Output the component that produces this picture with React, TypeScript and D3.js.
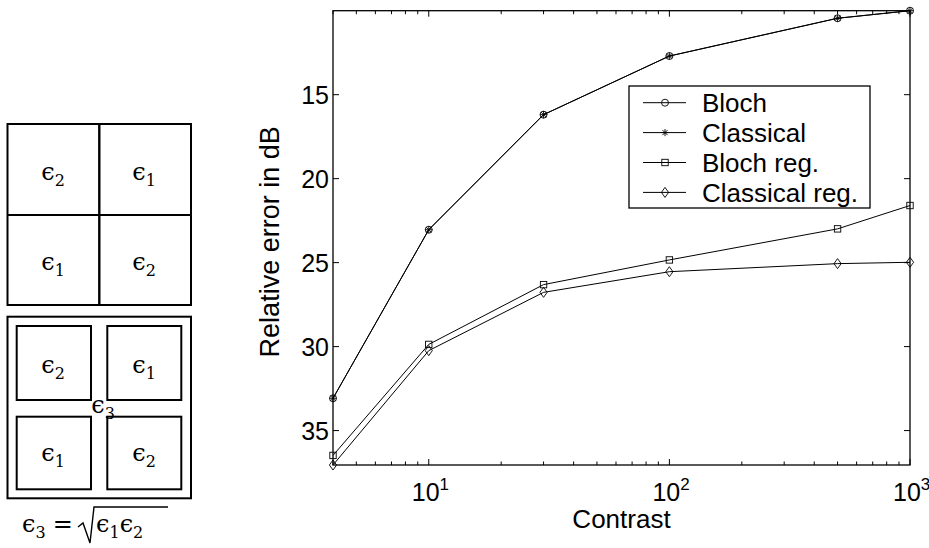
import React, { useEffect, useRef } from 'react';
import * as d3 from 'd3';

const contrast = [4, 10, 30, 100, 500, 1000];
const bloch = [33.08, 23.04, 16.19, 12.7, 10.45, 10.0];
const classical = [33.08, 23.04, 16.19, 12.7, 10.45, 10.0];
const blochReg = [36.48, 29.87, 26.31, 24.84, 22.99, 21.6];
const classicalReg = [37.05, 30.24, 26.77, 25.54, 25.06, 24.98];
const seriesNames = ['Bloch', 'Classical', 'Bloch reg.', 'Classical reg.'];
const yTicks = [15, 20, 25, 30, 35];
const xMajor = [10, 100, 1000];

const SANS = '"Liberation Sans", Arial, Helvetica, sans-serif';
const SERIF = '"DejaVu Serif", serif';

function drawMarker(g, kind, cx, cy) {
  if (kind === 'circle') {
    g.append('circle').attr('cx', cx).attr('cy', cy).attr('r', 3.5)
      .attr('fill', 'none').attr('stroke', '#000').attr('stroke-width', 0.9);
  } else if (kind === 'star') {
    const s = 3.6;
    const d = s * 0.71;
    g.append('path')
      .attr('d', `M${cx - s},${cy}H${cx + s}M${cx},${cy - s}V${cy + s}` +
        `M${cx - d},${cy - d}L${cx + d},${cy + d}M${cx - d},${cy + d}L${cx + d},${cy - d}`)
      .attr('stroke', '#000').attr('stroke-width', 0.9).attr('fill', 'none');
  } else if (kind === 'square') {
    g.append('rect').attr('x', cx - 3.2).attr('y', cy - 3.2).attr('width', 6.4).attr('height', 6.4)
      .attr('fill', 'none').attr('stroke', '#000').attr('stroke-width', 0.9);
  } else {
    g.append('path')
      .attr('d', `M${cx},${cy - 5}L${cx + 3.6},${cy}L${cx},${cy + 5}L${cx - 3.6},${cy}Z`)
      .attr('fill', 'none').attr('stroke', '#000').attr('stroke-width', 0.9);
  }
}

const Eps = ({ x, y, sub }) => (
  <text x={x} y={y} textAnchor="middle" fontFamily={SERIF} fontSize={24}>
    <tspan>ϵ</tspan>
    <tspan dy={6} fontSize={16}>{sub}</tspan>
  </text>
);

const App = () => {
  const chartRef = useRef(null);

  useEffect(() => {
    const g = d3.select(chartRef.current);
    g.selectAll('*').remove();

    const left = 333, right = 910, top = 10.7, bottom = 465;
    const series = [
      { name: seriesNames[0], values: bloch, marker: 'circle' },
      { name: seriesNames[1], values: classical, marker: 'star' },
      { name: seriesNames[2], values: blochReg, marker: 'square' },
      { name: seriesNames[3], values: classicalReg, marker: 'diamond' },
    ];

    const x = d3.scaleLog().domain(d3.extent(contrast)).range([left, right]);
    const allVals = series.flatMap(s => s.values);
    const y = d3.scaleLinear().domain(d3.extent(allVals)).range([top, bottom]);

    // ticks point inward on all four sides
    const minor = x.ticks().filter(t => !xMajor.includes(t));
    const tickPath = [];
    minor.forEach(t => {
      const px = x(t);
      tickPath.push(`M${px},${bottom}V${bottom - 3.5}`, `M${px},${top}V${top + 3.5}`);
    });
    xMajor.forEach(t => {
      const px = x(t);
      tickPath.push(`M${px},${bottom}V${bottom - 6}`, `M${px},${top}V${top + 6}`);
    });
    yTicks.forEach(t => {
      const py = y(t);
      tickPath.push(`M${left},${py}H${left + 6}`, `M${right},${py}H${right - 6}`);
    });
    g.append('path').attr('d', tickPath.join('')).attr('stroke', '#000')
      .attr('stroke-width', 1).attr('fill', 'none');

    const line = d3.line().x((d, i) => x(contrast[i])).y(d => y(d));
    series.forEach(s => {
      g.append('path').datum(s.values).attr('d', line)
        .attr('fill', 'none').attr('stroke', '#000').attr('stroke-width', 1);
    });
    series.forEach(s => {
      s.values.forEach((v, i) => drawMarker(g, s.marker, x(contrast[i]), y(v)));
    });

    g.append('rect').attr('x', left).attr('y', top).attr('width', right - left)
      .attr('height', bottom - top).attr('fill', 'none').attr('stroke', '#000').attr('stroke-width', 1.3);

    g.selectAll('.ylab').data(yTicks).enter().append('text')
      .attr('x', left - 4).attr('y', d => y(d)).attr('dy', '0.36em')
      .attr('text-anchor', 'end').attr('font-family', SANS).attr('font-size', 25)
      .text(d => d);

    xMajor.forEach(t => {
      const txt = g.append('text').attr('x', x(t) - 17).attr('y', bottom + 36)
        .attr('font-family', SANS).attr('font-size', 25);
      txt.append('tspan').text('10');
      txt.append('tspan').attr('dy', -11).attr('font-size', 17).text(Math.round(Math.log10(t)));
    });

    g.append('text').attr('x', (left + right) / 2).attr('y', bottom + 63)
      .attr('text-anchor', 'middle').attr('font-family', SANS).attr('font-size', 26)
      .text('Contrast');

    g.append('text').attr('transform', `translate(${left - 54},${(top + bottom) / 2 + 4}) rotate(-90)`)
      .attr('text-anchor', 'middle').attr('font-family', SANS).attr('font-size', 27)
      .text('Relative error in dB');

    // legend
    const lg = g.append('g');
    lg.append('rect').attr('x', 629).attr('y', 86).attr('width', 241).attr('height', 122)
      .attr('fill', '#fff').attr('stroke', '#000').attr('stroke-width', 1.3);
    series.forEach((s, i) => {
      const ly = 102.7 + i * 29.9;
      lg.append('path').attr('d', `M643,${ly}H686`).attr('stroke', '#000').attr('stroke-width', 1);
      drawMarker(lg, s.marker, 665, ly);
      lg.append('text').attr('x', 702).attr('y', ly).attr('dy', '0.36em')
        .attr('font-family', SANS).attr('font-size', 26).text(s.name);
    });
  }, []);

  return (
    <svg width={929} height={548} style={{ position: 'absolute', left: 0, top: 0, background: '#fff' }}>
      <g fill="none" stroke="#000">
        <rect x={7.5} y={124} width={183.5} height={181} strokeWidth={2} />
        <path d="M99.3,124V305" strokeWidth={2.4} />
        <path d="M7.5,215H191" strokeWidth={2} />
        <rect x={7.5} y={316.7} width={183.5} height={181.6} strokeWidth={2} />
        <rect x={16.7} y={326} width={74.3} height={74} strokeWidth={2} />
        <rect x={107.3} y={326} width={74} height={74} strokeWidth={2} />
        <rect x={16.7} y={416.7} width={74.3} height={72.6} strokeWidth={2} />
        <rect x={107.3} y={416.7} width={74} height={72.6} strokeWidth={2} />
      </g>
      <Eps x={53} y={180} sub="2" />
      <Eps x={144} y={180} sub="1" />
      <Eps x={53} y={270} sub="1" />
      <Eps x={144} y={270} sub="2" />
      <Eps x={53} y={373} sub="2" />
      <Eps x={144} y={373} sub="1" />
      <Eps x={53} y={461} sub="1" />
      <Eps x={144} y={461} sub="2" />
      <Eps x={103} y={413} sub="3" />
      <text x={22} y={532} fontFamily={SERIF} fontSize={24}>
        <tspan>ϵ</tspan>
        <tspan dy={6} fontSize={16}>3</tspan>
        <tspan dy={-6} dx={7}>=</tspan>
      </text>
      <path d="M78,527L83,523L90,543L94,507H168" fill="none" stroke="#000" strokeWidth={1.4} />
      <text x={96} y={532} fontFamily={SERIF} fontSize={24}>
        <tspan>ϵ</tspan>
        <tspan dy={6} fontSize={16}>1</tspan>
        <tspan dy={-6}>ϵ</tspan>
        <tspan dy={6} fontSize={16}>2</tspan>
      </text>
      <g ref={chartRef} />
    </svg>
  );
};

export default App;
